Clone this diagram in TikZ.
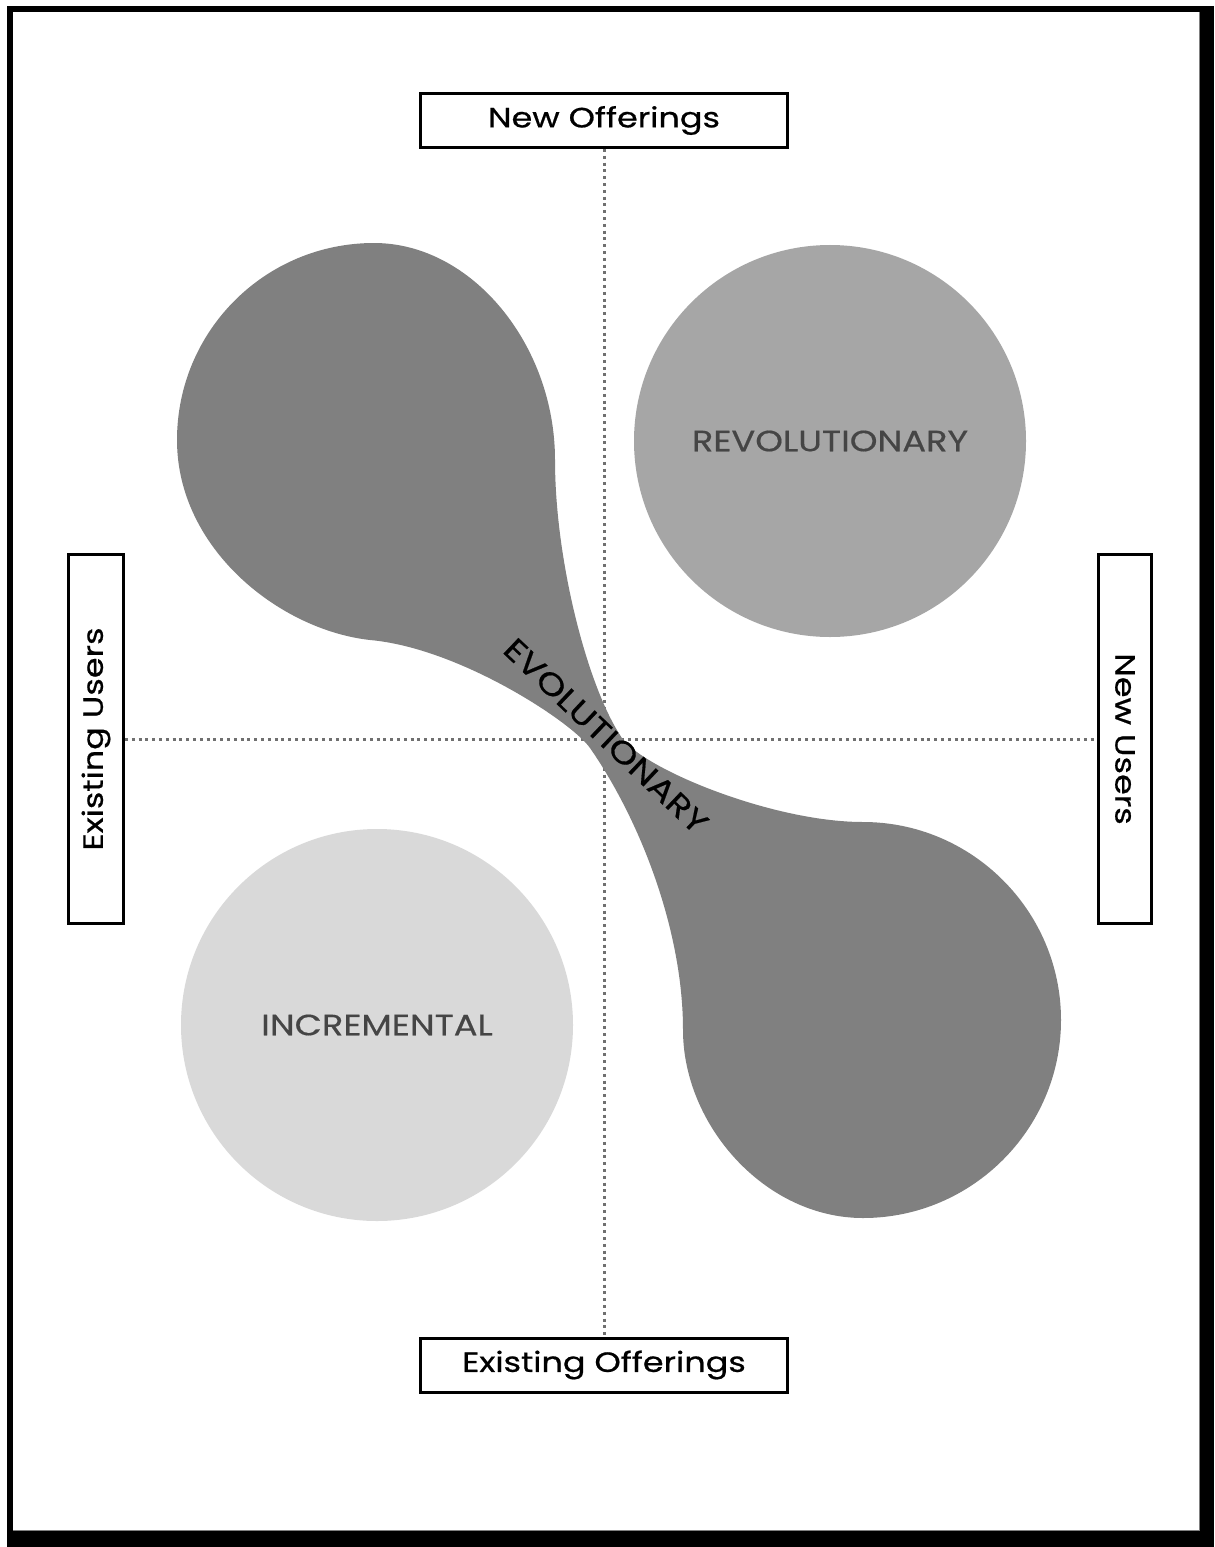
\documentclass[tikz,border=0pt]{standalone}
\usepackage{fontspec}
\setmainfont{Poppins}
\newfontfamily\labfont{Poppins}[FakeStretch=1.2, FakeBold=0.7]
\newfontfamily\circfont{Poppins}[FakeStretch=1.2, FakeBold=0.5]
\definecolor{evogray}{HTML}{808080}
\definecolor{revgray}{HTML}{A6A6A6}
\definecolor{incgray}{HTML}{D9D9D9}
\definecolor{txtgray}{HTML}{454545}
\definecolor{dotgray}{HTML}{707070}
\begin{document}
\begin{tikzpicture}[x=1bp,y=-1bp,
  axisbox/.style={draw=black, line width=3bp, fill=white, inner sep=0pt,
    font=\labfont\fontsize{28}{32}\selectfont},
  axisline/.style={draw=dotgray, line width=3bp, dash pattern=on 3bp off 3.8bp},
  circtext/.style={text=txtgray, font=\circfont\fontsize{29.5}{33}\selectfont},
  evotext/.style={text=black, font=\circfont\fontsize{31}{35}\selectfont}]
\useasboundingbox (0,0) rectangle (1214,1547);
\fill[white] (0,0) rectangle (1214,1547);
\fill[black] (7,6) rectangle (1214,1547);
\fill[white] (13,12) rectangle (1199,1530);
\draw[gray, line width=1bp] (1199,12) -- (1199,1530) -- (13,1530);

\node[axisbox, minimum width=367bp, minimum height=54bp] (no) at (604,120.5) {New Offerings};
\node[axisbox, minimum width=367bp, minimum height=54bp] (eo) at (604,1365) {Existing Offerings};
\node[axisbox, rotate=90, minimum width=369bp, minimum height=55bp] (eu) at (96,739) {Existing Users};
\node[axisbox, rotate=-90, minimum width=369bp, minimum height=53bp] (nu) at (1125,739) {New Users};

\draw[axisline] (no.south) -- (eo.north);
\draw[axisline] (eu.south) -- (nu.south);

\fill[evogray] (177,440) .. controls (177,331) and (265,243) .. (374,243)
 .. controls (472,243) and (555,345) .. (555,460)
 .. controls (555,560) and (587,684) .. (620,735)
 .. controls (636,766) and (770,822) .. (863,822)
 .. controls (972,822) and (1061,911) .. (1061,1020)
 .. controls (1061,1129) and (972,1218) .. (863,1218)
 .. controls (765,1218) and (683,1125) .. (683,1030)
 .. controls (683,930) and (640,820) .. (590,748)
 .. controls (573,723) and (460,648) .. (370,640)
 .. controls (280,630) and (177,549) .. (177,440) -- cycle;

\fill[revgray] (830,441) circle[radius=196bp];
\fill[incgray] (377,1025) circle[radius=196bp];

\node[circtext] (rev) at (830,441) {REVOLUTIONARY};
\node[circtext] (inc) at (377,1025) {INCREMENTAL};
\node[evotext, rotate=-43.5] (evo) at (606,736) {EVOLUTIONARY};
\end{tikzpicture}
\end{document}
